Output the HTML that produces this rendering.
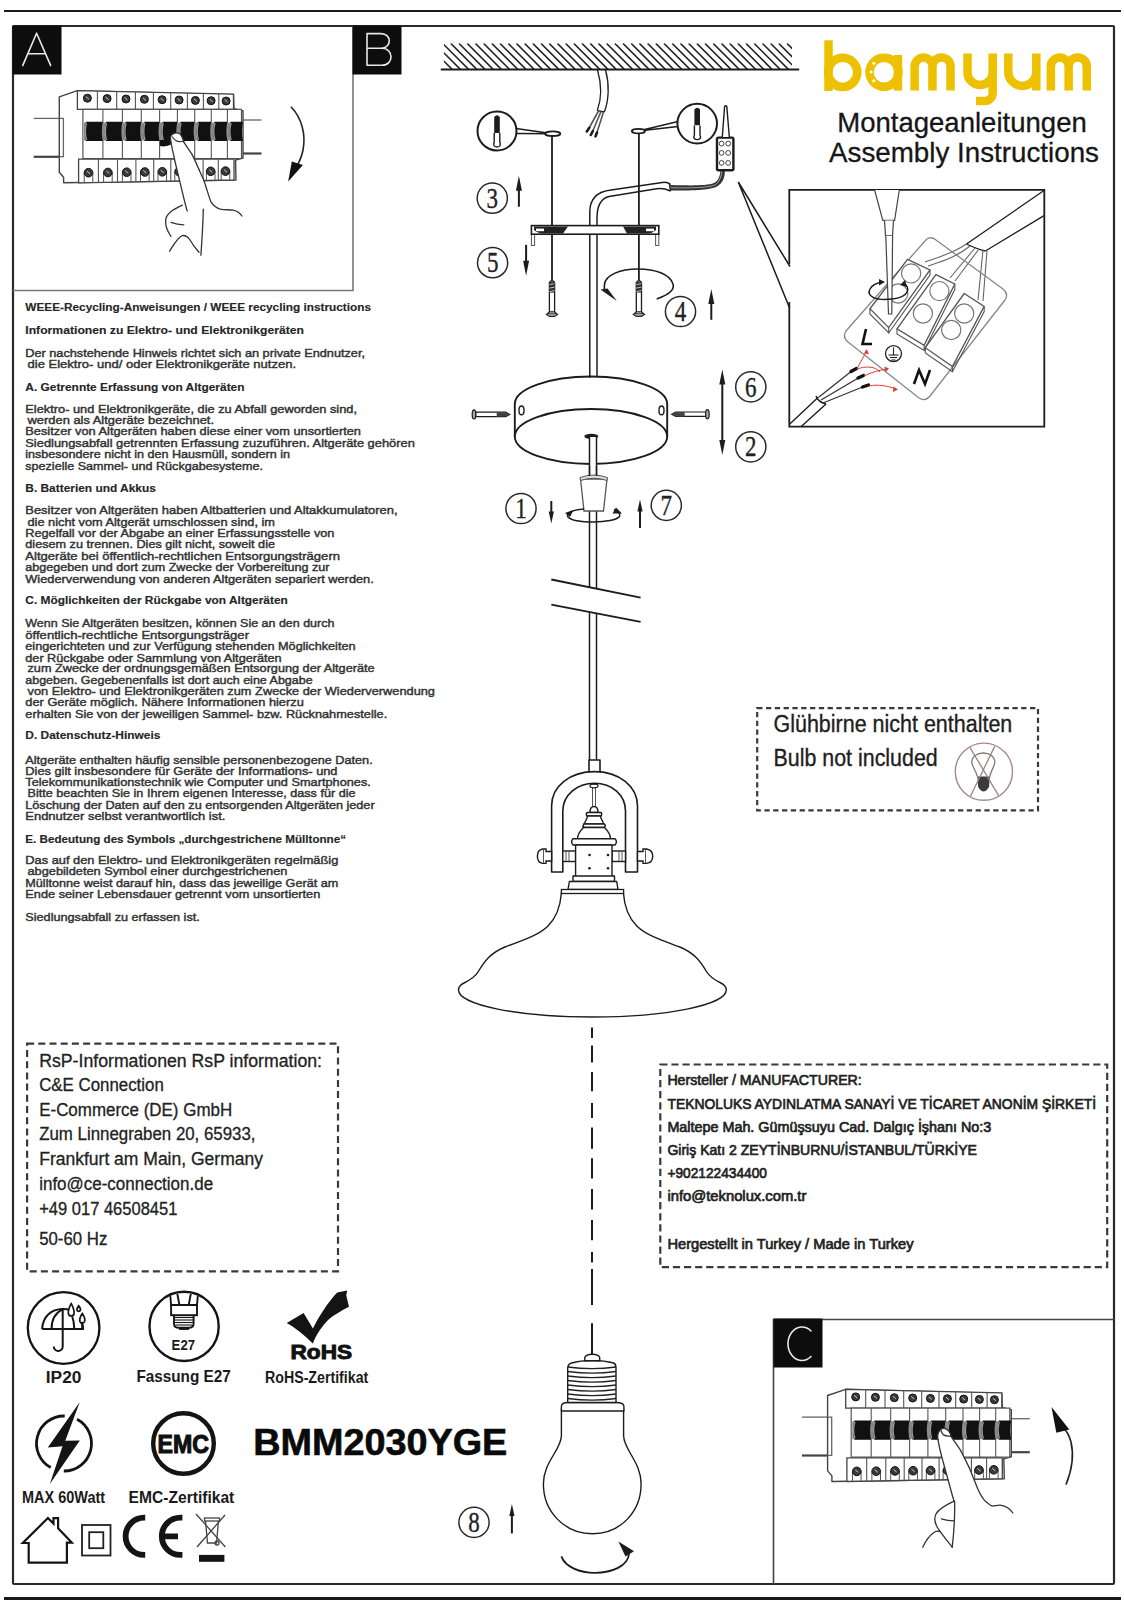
<!DOCTYPE html>
<html><head><meta charset="utf-8">
<title>bamyum Assembly Instructions</title>
<style>
html,body{margin:0;padding:0;background:#fff;}
body{width:1124px;height:1600px;overflow:hidden;}
svg{display:block;font-family:"Liberation Sans",sans-serif;}
</style></head><body>
<svg width="1124" height="1600" viewBox="0 0 1124 1600">
<line x1="4" y1="11" x2="1121" y2="11" stroke="#1a1a1a" stroke-width="2.2"/>
<line x1="4" y1="1598.5" x2="1121" y2="1598.5" stroke="#1a1a1a" stroke-width="3"/>
<rect x="13" y="26" width="1101" height="1558" fill="none" stroke="#2a2a2a" stroke-width="2.2" rx="1"/>
<polyline points="13,290.5 353,290.5 353,26" fill="none" stroke="#777" stroke-width="1.6"/>
<polyline points="773.5,1584 773.5,1319.5 1114,1319.5" fill="none" stroke="#444" stroke-width="1.6"/>
<rect x="12.5" y="25.5" width="49" height="49" fill="#0d0d0d"/>
<rect x="352.5" y="25.5" width="49" height="49" fill="#0d0d0d"/>
<rect x="773.5" y="1318.5" width="49" height="49" fill="#0d0d0d"/>
<g fill="none" stroke="#e8e8e8" stroke-width="1.6" stroke-linecap="round" stroke-linejoin="round">
<polyline points="22.8,65.4 36.6,33.2 50.6,65.4"/><line x1="28.6" y1="53.8" x2="44.8" y2="53.8"/>
<path d="M367,33.6 H381 C392,33.6 392,48.3 381,48.3 H367 M367,65.3 V33.6 M367,48.3 H382 C394,48.3 394,65.3 382,65.3 H367"/>
<path d="M811,1331 A14,16.7 0 1 0 811,1356.5"/>
</g>
<text x="25.3" y="311.0" font-size="11.4" font-weight="bold" fill="#262626" textLength="345.7" lengthAdjust="spacingAndGlyphs" text-anchor="start" stroke="#262626" stroke-width="0.15">WEEE-Recycling-Anweisungen / WEEE recycling instructions</text>
<text x="25.3" y="333.5" font-size="11.4" font-weight="bold" fill="#262626" textLength="278.7" lengthAdjust="spacingAndGlyphs" text-anchor="start" stroke="#262626" stroke-width="0.15">Informationen zu Elektro- und Elektronikgeräten</text>
<text x="25.3" y="357.0" font-size="11" fill="#333" textLength="339.7" lengthAdjust="spacingAndGlyphs" text-anchor="start" stroke="#333" stroke-width="0.42">Der nachstehende Hinweis richtet sich an private Endnutzer,</text>
<text x="27.5" y="368.0" font-size="11" fill="#333" textLength="268.5" lengthAdjust="spacingAndGlyphs" text-anchor="start" stroke="#333" stroke-width="0.42">die Elektro- und/ oder Elektronikgeräte nutzen.</text>
<text x="25.3" y="391.0" font-size="11.4" font-weight="bold" fill="#262626" textLength="219.2" lengthAdjust="spacingAndGlyphs" text-anchor="start" stroke="#262626" stroke-width="0.15">A. Getrennte Erfassung von Altgeräten</text>
<text x="25.3" y="413.0" font-size="11" fill="#333" textLength="331.7" lengthAdjust="spacingAndGlyphs" text-anchor="start" stroke="#333" stroke-width="0.42">Elektro- und Elektronikgeräte, die zu Abfall geworden sind,</text>
<text x="27.5" y="424.0" font-size="11" fill="#333" textLength="186.5" lengthAdjust="spacingAndGlyphs" text-anchor="start" stroke="#333" stroke-width="0.42">werden als Altgeräte bezeichnet.</text>
<text x="25.3" y="435.4" font-size="11" fill="#333" textLength="335.7" lengthAdjust="spacingAndGlyphs" text-anchor="start" stroke="#333" stroke-width="0.42">Besitzer von Altgeräten haben diese einer vom unsortierten</text>
<text x="25.3" y="446.8" font-size="11" fill="#333" textLength="389.5" lengthAdjust="spacingAndGlyphs" text-anchor="start" stroke="#333" stroke-width="0.42">Siedlungsabfall getrennten Erfassung zuzuführen. Altgeräte gehören</text>
<text x="25.3" y="458.3" font-size="11" fill="#333" textLength="264.7" lengthAdjust="spacingAndGlyphs" text-anchor="start" stroke="#333" stroke-width="0.42">insbesondere nicht in den Hausmüll, sondern in</text>
<text x="25.3" y="469.8" font-size="11" fill="#333" textLength="237.7" lengthAdjust="spacingAndGlyphs" text-anchor="start" stroke="#333" stroke-width="0.42">spezielle Sammel- und Rückgabesysteme.</text>
<text x="25.3" y="491.5" font-size="11.4" font-weight="bold" fill="#262626" textLength="130.5" lengthAdjust="spacingAndGlyphs" text-anchor="start" stroke="#262626" stroke-width="0.15">B. Batterien und Akkus</text>
<text x="25.3" y="514.4" font-size="11" fill="#333" textLength="372.2" lengthAdjust="spacingAndGlyphs" text-anchor="start" stroke="#333" stroke-width="0.42">Besitzer von Altgeräten haben Altbatterien und Altakkumulatoren,</text>
<text x="27.5" y="525.9" font-size="11" fill="#333" textLength="247.5" lengthAdjust="spacingAndGlyphs" text-anchor="start" stroke="#333" stroke-width="0.42">die nicht vom Altgerät umschlossen sind, im</text>
<text x="25.3" y="537.0" font-size="11" fill="#333" textLength="309.1" lengthAdjust="spacingAndGlyphs" text-anchor="start" stroke="#333" stroke-width="0.42">Regelfall vor der Abgabe an einer Erfassungsstelle von</text>
<text x="25.3" y="548.4" font-size="11" fill="#333" textLength="249.7" lengthAdjust="spacingAndGlyphs" text-anchor="start" stroke="#333" stroke-width="0.42">diesem zu trennen. Dies gilt nicht, soweit die</text>
<text x="25.3" y="560.0" font-size="11" fill="#333" textLength="314.7" lengthAdjust="spacingAndGlyphs" text-anchor="start" stroke="#333" stroke-width="0.42">Altgeräte bei öffentlich-rechtlichen Entsorgungsträgern</text>
<text x="25.3" y="571.4" font-size="11" fill="#333" textLength="304.2" lengthAdjust="spacingAndGlyphs" text-anchor="start" stroke="#333" stroke-width="0.42">abgegeben und dort zum Zwecke der Vorbereitung zur</text>
<text x="25.3" y="582.9" font-size="11" fill="#333" textLength="348.5" lengthAdjust="spacingAndGlyphs" text-anchor="start" stroke="#333" stroke-width="0.42">Wiederverwendung von anderen Altgeräten separiert werden.</text>
<text x="25.3" y="604.3" font-size="11.4" font-weight="bold" fill="#262626" textLength="262.5" lengthAdjust="spacingAndGlyphs" text-anchor="start" stroke="#262626" stroke-width="0.15">C. Möglichkeiten der Rückgabe von Altgeräten</text>
<text x="25.3" y="627.2" font-size="11" fill="#333" textLength="309.1" lengthAdjust="spacingAndGlyphs" text-anchor="start" stroke="#333" stroke-width="0.42">Wenn Sie Altgeräten besitzen, können Sie an den durch</text>
<text x="25.3" y="638.7" font-size="11" fill="#333" textLength="223.7" lengthAdjust="spacingAndGlyphs" text-anchor="start" stroke="#333" stroke-width="0.42">öffentlich-rechtliche Entsorgungsträger</text>
<text x="25.3" y="650.2" font-size="11" fill="#333" textLength="330.2" lengthAdjust="spacingAndGlyphs" text-anchor="start" stroke="#333" stroke-width="0.42">eingerichteten und zur Verfügung stehenden Möglichkeiten</text>
<text x="25.3" y="661.6" font-size="11" fill="#333" textLength="256.3" lengthAdjust="spacingAndGlyphs" text-anchor="start" stroke="#333" stroke-width="0.42">der Rückgabe oder Sammlung von Altgeräten</text>
<text x="27.5" y="672.4" font-size="11" fill="#333" textLength="347.1" lengthAdjust="spacingAndGlyphs" text-anchor="start" stroke="#333" stroke-width="0.42">zum Zwecke der ordnungsgemäßen Entsorgung der Altgeräte</text>
<text x="25.3" y="683.5" font-size="11" fill="#333" textLength="287.3" lengthAdjust="spacingAndGlyphs" text-anchor="start" stroke="#333" stroke-width="0.42">abgeben. Gegebenenfalls ist dort auch eine Abgabe</text>
<text x="27.5" y="695.0" font-size="11" fill="#333" textLength="407.5" lengthAdjust="spacingAndGlyphs" text-anchor="start" stroke="#333" stroke-width="0.42">von Elektro- und Elektronikgeräten zum Zwecke der Wiederverwendung</text>
<text x="25.3" y="706.4" font-size="11" fill="#333" textLength="278.5" lengthAdjust="spacingAndGlyphs" text-anchor="start" stroke="#333" stroke-width="0.42">der Geräte möglich. Nähere Informationen hierzu</text>
<text x="25.3" y="717.9" font-size="11" fill="#333" textLength="361.9" lengthAdjust="spacingAndGlyphs" text-anchor="start" stroke="#333" stroke-width="0.42">erhalten Sie von der jeweiligen Sammel- bzw. Rücknahmestelle.</text>
<text x="25.3" y="739.3" font-size="11.4" font-weight="bold" fill="#262626" textLength="135.1" lengthAdjust="spacingAndGlyphs" text-anchor="start" stroke="#262626" stroke-width="0.15">D. Datenschutz-Hinweis</text>
<text x="25.3" y="764.1" font-size="11" fill="#333" textLength="347.4" lengthAdjust="spacingAndGlyphs" text-anchor="start" stroke="#333" stroke-width="0.42">Altgeräte enthalten häufig sensible personenbezogene Daten.</text>
<text x="25.3" y="774.8" font-size="11" fill="#333" textLength="312.2" lengthAdjust="spacingAndGlyphs" text-anchor="start" stroke="#333" stroke-width="0.42">Dies gilt insbesondere für Geräte der Informations- und</text>
<text x="25.3" y="786.3" font-size="11" fill="#333" textLength="345.5" lengthAdjust="spacingAndGlyphs" text-anchor="start" stroke="#333" stroke-width="0.42">Telekommunikationstechnik wie Computer und Smartphones.</text>
<text x="27.5" y="797.4" font-size="11" fill="#333" textLength="328.0" lengthAdjust="spacingAndGlyphs" text-anchor="start" stroke="#333" stroke-width="0.42">Bitte beachten Sie in Ihrem eigenen Interesse, dass für die</text>
<text x="25.3" y="808.9" font-size="11" fill="#333" textLength="349.3" lengthAdjust="spacingAndGlyphs" text-anchor="start" stroke="#333" stroke-width="0.42">Löschung der Daten auf den zu entsorgenden Altgeräten jeder</text>
<text x="25.3" y="819.6" font-size="11" fill="#333" textLength="200.1" lengthAdjust="spacingAndGlyphs" text-anchor="start" stroke="#333" stroke-width="0.42">Endnutzer selbst verantwortlich ist.</text>
<text x="25.3" y="842.6" font-size="11.4" font-weight="bold" fill="#262626" textLength="320.7" lengthAdjust="spacingAndGlyphs" text-anchor="start" stroke="#262626" stroke-width="0.15">E. Bedeutung des Symbols „durchgestrichene Mülltonne“</text>
<text x="25.3" y="864.4" font-size="11" fill="#333" textLength="313.0" lengthAdjust="spacingAndGlyphs" text-anchor="start" stroke="#333" stroke-width="0.42">Das auf den Elektro- und Elektronikgeräten regelmäßig</text>
<text x="27.5" y="875.0" font-size="11" fill="#333" textLength="259.9" lengthAdjust="spacingAndGlyphs" text-anchor="start" stroke="#333" stroke-width="0.42">abgebildeten Symbol einer durchgestrichenen</text>
<text x="25.3" y="886.5" font-size="11" fill="#333" textLength="313.0" lengthAdjust="spacingAndGlyphs" text-anchor="start" stroke="#333" stroke-width="0.42">Mülltonne weist darauf hin, dass das jeweilige Gerät am</text>
<text x="25.3" y="898.0" font-size="11" fill="#333" textLength="295.0" lengthAdjust="spacingAndGlyphs" text-anchor="start" stroke="#333" stroke-width="0.42">Ende seiner Lebensdauer getrennt vom unsortierten</text>
<text x="25.3" y="921.0" font-size="11" fill="#333" textLength="174.5" lengthAdjust="spacingAndGlyphs" text-anchor="start" stroke="#333" stroke-width="0.42">Siedlungsabfall zu erfassen ist.</text>
<rect x="27.1" y="1043.6" width="310.9" height="227.80000000000018" fill="none" stroke="#3a3a3a" stroke-width="2.2" stroke-dasharray="7 4.2"/>
<text x="39.2" y="1066.9" font-size="17.5" fill="#222" textLength="282.8" lengthAdjust="spacingAndGlyphs" text-anchor="start" stroke="#222" stroke-width="0.3">RsP-Informationen RsP information:</text>
<text x="39.2" y="1091.4" font-size="17.5" fill="#222" textLength="124.6" lengthAdjust="spacingAndGlyphs" text-anchor="start" stroke="#222" stroke-width="0.3">C&amp;E Connection</text>
<text x="39.2" y="1116.2" font-size="17.5" fill="#222" textLength="193.0" lengthAdjust="spacingAndGlyphs" text-anchor="start" stroke="#222" stroke-width="0.3">E-Commerce (DE) GmbH</text>
<text x="39.2" y="1140.4" font-size="17.5" fill="#222" textLength="216.3" lengthAdjust="spacingAndGlyphs" text-anchor="start" stroke="#222" stroke-width="0.3">Zum Linnegraben 20, 65933,</text>
<text x="39.2" y="1165.2" font-size="17.5" fill="#222" textLength="223.8" lengthAdjust="spacingAndGlyphs" text-anchor="start" stroke="#222" stroke-width="0.3">Frankfurt am Main, Germany</text>
<text x="39.2" y="1189.7" font-size="17.5" fill="#222" textLength="173.9" lengthAdjust="spacingAndGlyphs" text-anchor="start" stroke="#222" stroke-width="0.3">info@ce-connection.de</text>
<text x="39.2" y="1214.5" font-size="17.5" fill="#222" textLength="138.2" lengthAdjust="spacingAndGlyphs" text-anchor="start" stroke="#222" stroke-width="0.3">+49 017 46508451</text>
<text x="39.2" y="1244.8" font-size="17.5" fill="#222" textLength="68.1" lengthAdjust="spacingAndGlyphs" text-anchor="start" stroke="#222" stroke-width="0.3">50-60 Hz</text>
<rect x="660.3" y="1064.5" width="446.9000000000001" height="202.70000000000005" fill="none" stroke="#3a3a3a" stroke-width="2.2" stroke-dasharray="7.2 3.9"/>
<text x="667.4" y="1085.2" font-size="15.2" fill="#222" textLength="194.4" lengthAdjust="spacingAndGlyphs" text-anchor="start" stroke="#222" stroke-width="0.7">Hersteller / MANUFACTURER:</text>
<text x="667.4" y="1108.8" font-size="15.2" fill="#222" textLength="428.6" lengthAdjust="spacingAndGlyphs" text-anchor="start" stroke="#222" stroke-width="0.7">TEKNOLUKS AYDINLATMA SANAYİ VE TİCARET ANONİM ŞİRKETİ</text>
<text x="667.4" y="1131.5" font-size="15.2" fill="#222" textLength="323.9" lengthAdjust="spacingAndGlyphs" text-anchor="start" stroke="#222" stroke-width="0.7">Maltepe Mah. Gümüşsuyu Cad. Dalgıç İşhanı No:3</text>
<text x="667.4" y="1154.7" font-size="15.2" fill="#222" textLength="309.5" lengthAdjust="spacingAndGlyphs" text-anchor="start" stroke="#222" stroke-width="0.7">Giriş Katı 2 ZEYTİNBURNU/İSTANBUL/TÜRKİYE</text>
<text x="667.4" y="1178.3" font-size="15.2" fill="#222" textLength="99.6" lengthAdjust="spacingAndGlyphs" text-anchor="start" stroke="#222" stroke-width="0.7">+902122434400</text>
<text x="667.4" y="1201.0" font-size="15.2" fill="#222" textLength="139.0" lengthAdjust="spacingAndGlyphs" text-anchor="start" stroke="#222" stroke-width="0.7">info@teknolux.com.tr</text>
<text x="667.4" y="1248.6" font-size="15.2" fill="#222" textLength="246.1" lengthAdjust="spacingAndGlyphs" text-anchor="start" stroke="#222" stroke-width="0.7">Hergestellt in Turkey / Made in Turkey</text>
<rect x="757.2" y="708.2" width="280.79999999999995" height="102.09999999999991" fill="none" stroke="#3a3a3a" stroke-width="2.2" stroke-dasharray="5.3 3.5"/>
<text x="773.5" y="731.8" font-size="23.5" fill="#1e1e1e" textLength="238.8" lengthAdjust="spacingAndGlyphs" text-anchor="start" stroke="#1e1e1e" stroke-width="0.35">Glühbirne nicht enthalten</text>
<text x="773.5" y="766.0" font-size="23.5" fill="#1e1e1e" textLength="164.2" lengthAdjust="spacingAndGlyphs" text-anchor="start" stroke="#1e1e1e" stroke-width="0.35">Bulb not included</text>
<text x="837.2" y="132.2" font-size="28.5" fill="#161616" textLength="249.6" lengthAdjust="spacingAndGlyphs" text-anchor="start" stroke="#161616" stroke-width="0.3">Montageanleitungen</text>
<text x="829.0" y="161.5" font-size="28.5" fill="#161616" textLength="270.0" lengthAdjust="spacingAndGlyphs" text-anchor="start" stroke="#161616" stroke-width="0.3">Assembly Instructions</text>
<g fill="none" stroke="#eec100" stroke-width="8.5">
<line x1="828.5" y1="40.3" x2="828.5" y2="91"/>
<circle cx="842.7" cy="72.3" r="14.6"/>
<circle cx="884" cy="72.3" r="14.5"/>
<line x1="897.9" y1="55" x2="897.9" y2="90.6"/>
<path d="M914.65,90.4 V66.5 A8.9,8.9 0 0 1 932.4499999999999,66.5 V90.4 M932.4499999999999,66.5 A9.05,9.05 0 0 1 950.55,66.5 V90.4"/>
<path d="M967.5,53.6 V72.4 A12.6,12.6 0 0 0 992.7,72.4 M992.7,53.6 V93 A8,8 0 0 1 984.7,101 H976"/>
<path d="M1008.3,53.6 V71.9 A14,14 0 0 0 1036.3,71.9 M1036.3,53.6 V90.4"/>
<path d="M1050.85,90.4 V66.5 A8.9,8.9 0 0 1 1068.6499999999999,66.5 V90.4 M1068.6499999999999,66.5 A9.05,9.05 0 0 1 1086.7499999999998,66.5 V90.4"/>
</g>
<g fill="#fff"><circle cx="873.7" cy="63.2" r="1.5"/><circle cx="871.2" cy="71.9" r="1.5"/><circle cx="873.7" cy="80.8" r="1.5"/></g>
<circle cx="63.6" cy="1328" r="35.8" fill="none" stroke="#141414" stroke-width="2.3"/>
<g fill="none" stroke="#141414" stroke-width="2" stroke-linejoin="round">
<path d="M42.2,1329 C42.5,1317 51,1309 62.7,1308.9 C67,1308.9 69,1309.5 70.5,1310 M79.5,1320 C82,1323 83.2,1326 83.2,1329 H42.2"/>
<path d="M62.5,1309.2 C55.5,1313 51.5,1320 51.6,1329 M62.7,1309 V1346.5 A4.45,4.45 0 0 1 53.8,1346.5"/>
<path d="M72.2,1316.5 C73.5,1320 74.2,1324 74.3,1329 M82.3,1322.7 V1329"/>
</g>
<g fill="#fff" stroke="#141414" stroke-width="1.7"><path d="M71.2,1303.6 C68.7,1308 68.2,1312.5 68.5,1314 C69,1316.5 73.5,1316.5 73.9,1314 C74.2,1312.5 73.7,1308 71.2,1303.6 Z"/><path d="M78.7,1305.8 C77.2,1307.8 76.7,1309.5 77,1310.3 C77.5,1311.6 80,1311.6 80.4,1310.3 C80.7,1309.5 80.2,1307.8 78.7,1305.8 Z"/><path d="M82.3,1313.4 C79.8,1317 79.6,1320 80,1321.4 C80.6,1323.3 84,1323.3 84.6,1321.4 C85,1320 84.8,1317 82.3,1313.4 Z"/></g>
<text x="45.8" y="1383.2" font-size="17.4" font-weight="bold" fill="#1a1a1a" textLength="35.6" lengthAdjust="spacingAndGlyphs" text-anchor="start" >IP20</text>
<circle cx="184.1" cy="1326.4" r="34.6" fill="none" stroke="#141414" stroke-width="2.4"/>
<clipPath id="ce27"><circle cx="184.1" cy="1326.4" r="33.4"/></clipPath>
<g clip-path="url(#ce27)" fill="none" stroke="#141414" stroke-width="1.9">
<path d="M169.6,1288 L171.1,1305 H197 L198.5,1288"/>
<line x1="177" y1="1292" x2="179.4" y2="1305"/><line x1="191.2" y1="1292" x2="188.7" y2="1305"/>
<rect x="171.1" y="1305" width="25.9" height="10.2"/>
<path d="M174,1315.2 V1323.5 Q174,1327.5 178,1327.7 H189.6 Q193.6,1327.5 193.6,1323.5 V1315.2"/>
</g>
<g stroke="#141414" stroke-width="1.1"><line x1="175" y1="1317.5" x2="193" y2="1317.5"/><line x1="175" y1="1320" x2="193" y2="1320"/><line x1="175" y1="1322.5" x2="193" y2="1322.5"/><line x1="175.5" y1="1325" x2="192.5" y2="1325"/></g>
<rect x="179" y="1327.5" width="10" height="2.4" fill="#141414"/>
<text x="171.6" y="1350.0" font-size="14.4" font-weight="bold" fill="#1a1a1a" textLength="23.5" lengthAdjust="spacingAndGlyphs" text-anchor="start" >E27</text>
<text x="136.4" y="1382.3" font-size="17" font-weight="bold" fill="#1a1a1a" textLength="94.4" lengthAdjust="spacingAndGlyphs" text-anchor="start" >Fassung E27</text>
<path d="M286.7,1323 L303.6,1313 L312.9,1328.6 C318,1318 328,1302 337.2,1292.5 L347.1,1290.6 L346.3,1295.5 L349,1306.8 C341,1311 334,1315 329.7,1318.6 C322,1326 316,1335 312.9,1343.5 C305,1336 296,1328 286.7,1323 Z" fill="#141414"/>
<text x="290.5" y="1358.5" font-size="19.5" font-weight="bold" fill="#111" textLength="61.6" lengthAdjust="spacingAndGlyphs" text-anchor="start" stroke="#111" stroke-width="0.9">RoHS</text>
<text x="265.0" y="1383.3" font-size="16.8" font-weight="bold" fill="#1a1a1a" textLength="103.3" lengthAdjust="spacingAndGlyphs" text-anchor="start" >RoHS-Zertifikat</text>
<path d="M77.04,1419.29 A27.5,27.5 0 0 1 63.81,1471.0 M50.71,1467.57 A27.5,27.5 0 0 1 64.72,1416.01" fill="none" stroke="#141414" stroke-width="2.8"/>
<path d="M79.8,1402.1 L47.8,1447.5 L62.5,1446.3 L49.8,1484 L79.8,1440.4 L65.3,1440.8 Z" fill="#141414"/>
<text x="22.0" y="1502.6" font-size="17.2" font-weight="bold" fill="#1a1a1a" textLength="83.1" lengthAdjust="spacingAndGlyphs" text-anchor="start" >MAX 60Watt</text>
<circle cx="183.5" cy="1443.5" r="30.3" fill="none" stroke="#141414" stroke-width="4.4"/>
<text x="157.5" y="1452.8" font-size="26" font-weight="bold" fill="#111" textLength="51.4" lengthAdjust="spacingAndGlyphs" text-anchor="start" stroke="#111" stroke-width="1.1">EMC</text>
<text x="128.6" y="1502.6" font-size="17.2" font-weight="bold" fill="#1a1a1a" textLength="105.7" lengthAdjust="spacingAndGlyphs" text-anchor="start" >EMC-Zertifikat</text>
<text x="253.2" y="1455.3" font-size="36" font-weight="bold" fill="#0a0a0a" textLength="254.1" lengthAdjust="spacingAndGlyphs" text-anchor="start" stroke="#0a0a0a" stroke-width="0.6">BMM2030YGE</text>
<path d="M28.7,1562.7 V1543 H22.8 L47.9,1518 L53.5,1523.6 V1518.2 H58.1 V1528.2 L71.8,1542.6 H66.9 V1562.7 Z" fill="none" stroke="#141414" stroke-width="2.2"/>
<rect x="82" y="1525" width="28.5" height="30.5" fill="none" stroke="#222" stroke-width="1.8"/>
<rect x="89.2" y="1532.2" width="14.1" height="16" fill="none" stroke="#222" stroke-width="1.8"/>
<path d="M145.2,1517.7 H144.2 A18.6,18.6 0 0 0 144.2,1554.9 H145.2" fill="none" stroke="#141414" stroke-width="5.8"/>
<path d="M182.4,1517.7 H180.4 A18.6,18.6 0 0 0 180.4,1554.9 H182.4 M164,1536.3 H178" fill="none" stroke="#141414" stroke-width="5.8"/>
<g fill="none" stroke="#444" stroke-width="1.3">
<line x1="196" y1="1514" x2="225.4" y2="1547"/><line x1="225" y1="1515" x2="197" y2="1547"/>
<rect x="204.5" y="1518" width="15" height="3" /><path d="M205.5,1521 L207.5,1543 H216.5 L218.5,1521"/><circle cx="217" cy="1543" r="2"/>
</g>
<rect x="199" y="1554.9" width="25.4" height="6.9" fill="#141414"/>
<clipPath id="hatch"><rect x="443.9" y="43.2" width="348.1" height="26"/></clipPath>
<path clip-path="url(#hatch)" d="M418.0,43.4 L444.0,69.4 M426.2,43.4 L452.2,69.4 M434.4,43.4 L460.4,69.4 M442.6,43.4 L468.6,69.4 M450.8,43.4 L476.8,69.4 M459.0,43.4 L485.0,69.4 M467.2,43.4 L493.2,69.4 M475.4,43.4 L501.4,69.4 M483.6,43.4 L509.6,69.4 M491.8,43.4 L517.8,69.4 M500.0,43.4 L526.0,69.4 M508.2,43.4 L534.2,69.4 M516.4,43.4 L542.4,69.4 M524.6,43.4 L550.6,69.4 M532.8,43.4 L558.8,69.4 M541.0,43.4 L567.0,69.4 M549.2,43.4 L575.2,69.4 M557.4,43.4 L583.4,69.4 M565.6,43.4 L591.6,69.4 M573.8,43.4 L599.8,69.4 M582.0,43.4 L608.0,69.4 M590.2,43.4 L616.2,69.4 M598.4,43.4 L624.4,69.4 M606.6,43.4 L632.6,69.4 M614.8,43.4 L640.8,69.4 M623.0,43.4 L649.0,69.4 M631.2,43.4 L657.2,69.4 M639.4,43.4 L665.4,69.4 M647.6,43.4 L673.6,69.4 M655.8,43.4 L681.8,69.4 M664.0,43.4 L690.0,69.4 M672.2,43.4 L698.2,69.4 M680.4,43.4 L706.4,69.4 M688.6,43.4 L714.6,69.4 M696.8,43.4 L722.8,69.4 M705.0,43.4 L731.0,69.4 M713.2,43.4 L739.2,69.4 M721.4,43.4 L747.4,69.4 M729.6,43.4 L755.6,69.4 M737.8,43.4 L763.8,69.4 M746.0,43.4 L772.0,69.4 M754.2,43.4 L780.2,69.4 M762.4,43.4 L788.4,69.4 M770.6,43.4 L796.6,69.4 M778.8,43.4 L804.8,69.4 M787.0,43.4 L813.0,69.4" stroke="#222" stroke-width="1.5" fill="none"/>
<line x1="440.8" y1="69.4" x2="799.2" y2="69.4" stroke="#1c1c1c" stroke-width="2"/>
<circle cx="492.3" cy="198.2" r="15.1" fill="none" stroke="#2a2a2a" stroke-width="1.5"/>
<text x="486.6" y="207.8" font-family="Liberation Serif" font-size="29" fill="#222" stroke="#222" stroke-width="0.35" textLength="11.5" lengthAdjust="spacingAndGlyphs">3</text>
<line x1="518.9" y1="206.7" x2="518.9" y2="187.8" stroke="#1c1c1c" stroke-width="2"/>
<path d="M518.9,175.8 L515.9,190.8 L521.9,190.8 Z" fill="#1c1c1c"/>
<circle cx="492.6" cy="262.7" r="15.1" fill="none" stroke="#2a2a2a" stroke-width="1.5"/>
<text x="486.9" y="272.3" font-family="Liberation Serif" font-size="29" fill="#222" stroke="#222" stroke-width="0.35" textLength="11.5" lengthAdjust="spacingAndGlyphs">5</text>
<line x1="526.1" y1="244.8" x2="526.1" y2="263.7" stroke="#1c1c1c" stroke-width="2"/>
<path d="M526.1,275.7 L523.1,260.7 L529.1,260.7 Z" fill="#1c1c1c"/>
<circle cx="680.5" cy="311.5" r="15.1" fill="none" stroke="#2a2a2a" stroke-width="1.5"/>
<text x="674.8" y="321.1" font-family="Liberation Serif" font-size="29" fill="#222" stroke="#222" stroke-width="0.35" textLength="11.5" lengthAdjust="spacingAndGlyphs">4</text>
<line x1="711.3" y1="319.8" x2="711.3" y2="300.9" stroke="#1c1c1c" stroke-width="2"/>
<path d="M711.3,288.9 L708.3,303.9 L714.3,303.9 Z" fill="#1c1c1c"/>
<circle cx="750.8" cy="386.9" r="15.1" fill="none" stroke="#2a2a2a" stroke-width="1.5"/>
<text x="745.0" y="396.5" font-family="Liberation Serif" font-size="29" fill="#222" stroke="#222" stroke-width="0.35" textLength="11.5" lengthAdjust="spacingAndGlyphs">6</text>
<circle cx="750.8" cy="446.8" r="15.1" fill="none" stroke="#2a2a2a" stroke-width="1.5"/>
<text x="745.0" y="456.4" font-family="Liberation Serif" font-size="29" fill="#222" stroke="#222" stroke-width="0.35" textLength="11.5" lengthAdjust="spacingAndGlyphs">2</text>
<line x1="722.3" y1="412" x2="722.3" y2="381.6" stroke="#1c1c1c" stroke-width="2"/>
<path d="M722.3,369.6 L719.3,384.6 L725.3,384.6 Z" fill="#1c1c1c"/>
<line x1="722.3" y1="412" x2="722.3" y2="443.1" stroke="#1c1c1c" stroke-width="2"/>
<path d="M722.3,455.1 L719.3,440.1 L725.3,440.1 Z" fill="#1c1c1c"/>
<circle cx="521" cy="508.5" r="15.1" fill="none" stroke="#2a2a2a" stroke-width="1.5"/>
<text x="515.2" y="518.1" font-family="Liberation Serif" font-size="29" fill="#222" stroke="#222" stroke-width="0.35" textLength="11.5" lengthAdjust="spacingAndGlyphs">1</text>
<line x1="551.3" y1="501" x2="551.3" y2="514.0" stroke="#1c1c1c" stroke-width="2"/>
<path d="M551.3,523.6 L548.6999999999999,511.6 L553.9,511.6 Z" fill="#1c1c1c"/>
<circle cx="666.3" cy="505.4" r="15.1" fill="none" stroke="#2a2a2a" stroke-width="1.5"/>
<text x="660.5" y="515.0" font-family="Liberation Serif" font-size="29" fill="#222" stroke="#222" stroke-width="0.35" textLength="11.5" lengthAdjust="spacingAndGlyphs">7</text>
<line x1="640" y1="528" x2="640" y2="509.0" stroke="#1c1c1c" stroke-width="2"/>
<path d="M640,499.4 L637.4,511.4 L642.6,511.4 Z" fill="#1c1c1c"/>
<circle cx="474" cy="1522.4" r="15.1" fill="none" stroke="#2a2a2a" stroke-width="1.5"/>
<text x="468.2" y="1532.0" font-family="Liberation Serif" font-size="29" fill="#222" stroke="#222" stroke-width="0.35" textLength="11.5" lengthAdjust="spacingAndGlyphs">8</text>
<line x1="511.9" y1="1533.4" x2="511.9" y2="1513.6" stroke="#1c1c1c" stroke-width="2"/>
<path d="M511.9,1504 L509.29999999999995,1516.0 L514.5,1516.0 Z" fill="#1c1c1c"/>
<g fill="none" stroke="#1c1c1c" stroke-width="1.3">
<path d="M597.5,70 C601.5,84 602,98 597.3,110.6"/>
<path d="M605.5,70 C609.5,84 609,100 604.3,112"/>
<path d="M597.3,110.6 L604.3,112"/>
</g>
<g stroke="#555" stroke-width="1.6" fill="none"><path d="M598.5,111 L588,130"/><path d="M601,111.5 L591.5,134"/><path d="M603.5,112 L596,135.5"/></g>
<g stroke="#1c1c1c" stroke-width="2.6" stroke-linecap="round"><path d="M589.3,127.8 L586.8,131.4"/><path d="M592.8,131 L590.8,135"/><path d="M597,132.5 L595.5,136.4"/></g>
<circle cx="497" cy="131" r="19.5" fill="#fff" stroke="#1c1c1c" stroke-width="2"/>
<path d="M494.2,117 Q497,113.5 499.8,117 V133 H494.2 Z" fill="#1c1c1c"/>
<path d="M494.2,133 V142.5 Q493,144 494.2,146 Q497,148 499.8,146 Q501,144 499.8,142.5 V133" fill="#fff" stroke="#1c1c1c" stroke-width="1.4"/>
<path d="M516,128.4 L552.7,133.7 L516,133.6" fill="none" stroke="#1c1c1c" stroke-width="1.5"/>
<ellipse cx="552.7" cy="133.7" rx="7.6" ry="2.3" fill="#fff" stroke="#1c1c1c" stroke-width="1.8"/>
<circle cx="697.2" cy="123.6" r="19.8" fill="#fff" stroke="#1c1c1c" stroke-width="2"/>
<path d="M694.4000000000001,109.6 Q697.2,106.1 700.0,109.6 V125.6 H694.4000000000001 Z" fill="#1c1c1c"/>
<path d="M694.4000000000001,125.6 V135.1 Q693.2,136.6 694.4000000000001,138.6 Q697.2,140.6 700.0,138.6 Q701.2,136.6 700.0,135.1 V125.6" fill="#fff" stroke="#1c1c1c" stroke-width="1.4"/>
<path d="M678,121.4 L638.4,131.1 L678,126.6" fill="none" stroke="#1c1c1c" stroke-width="1.5"/>
<ellipse cx="638.4" cy="131.1" rx="6.6" ry="2.3" fill="#fff" stroke="#1c1c1c" stroke-width="1.8"/>
<line x1="552" y1="136" x2="552" y2="281" stroke="#1c1c1c" stroke-width="1.8"/>
<line x1="638.9" y1="133.4" x2="638.9" y2="281" stroke="#1c1c1c" stroke-width="1.8"/>
<path d="M549.4,282.6 Q552,278.6 554.6,282.6 V312 H549.4 Z" fill="#fff" stroke="#1c1c1c" stroke-width="1.3"/>
<rect x="549.4" y="281.6" width="5.2" height="11" fill="#333"/>
<g stroke="#ddd" stroke-width="0.8"><line x1="549.4" y1="284.6" x2="554.6" y2="283.6"/><line x1="549.4" y1="288.1" x2="554.6" y2="287.1"/><line x1="549.4" y1="291.6" x2="554.6" y2="290.6"/></g>
<path d="M549.4,312 L546.5,314.5 Q552,318 557.5,314.5 L554.6,312" fill="#fff" stroke="#1c1c1c" stroke-width="1.3"/>
<ellipse cx="552" cy="314.7" rx="5" ry="1.8" fill="#999" stroke="#1c1c1c" stroke-width="1"/>
<path d="M636.3,282.6 Q638.9,278.6 641.5,282.6 V312 H636.3 Z" fill="#fff" stroke="#1c1c1c" stroke-width="1.3"/>
<rect x="636.3" y="281.6" width="5.2" height="11" fill="#333"/>
<g stroke="#ddd" stroke-width="0.8"><line x1="636.3" y1="284.6" x2="641.5" y2="283.6"/><line x1="636.3" y1="288.1" x2="641.5" y2="287.1"/><line x1="636.3" y1="291.6" x2="641.5" y2="290.6"/></g>
<path d="M636.3,312 L633.4,314.5 Q638.9,318 644.4,314.5 L641.5,312" fill="#fff" stroke="#1c1c1c" stroke-width="1.3"/>
<ellipse cx="638.9" cy="314.7" rx="5" ry="1.8" fill="#999" stroke="#1c1c1c" stroke-width="1"/>
<g fill="none" stroke="#1c1c1c" stroke-width="1.5">
<path d="M589.8,376 V212 C589.8,198 598,191.5 611,190 L662.3,182.4 C666,182 669,183 670.5,184.5"/>
<path d="M597,376 V218 C597,206 601,198.5 609,196.5 L656.7,188.8 C662,188 667,189.5 670.5,191"/>
<line x1="669.5" y1="184" x2="670.5" y2="191.2"/>
</g>
<path d="M670.5,185 C690,185.5 706,186 714,183 C719,180.5 720,175 720.5,170.5 L724.8,170.5 C725,177 723,183 717,186.5 C710,190.5 690,190.5 670.5,190.5 Z" fill="#333"/>
<path d="M671,187.8 C690,188 708,188 715.5,184.8 C719.5,182 721.5,176 722,171" fill="none" stroke="#bbb" stroke-width="0.8"/>
<rect x="717" y="137.6" width="16.4" height="32.6" rx="1.5" fill="#fff" stroke="#1c1c1c" stroke-width="2.4"/>
<circle cx="721.6" cy="143.6" r="2.4" fill="none" stroke="#444" stroke-width="1"/>
<circle cx="728.2" cy="143.6" r="2.4" fill="none" stroke="#444" stroke-width="1"/>
<circle cx="721.6" cy="152.9" r="2.4" fill="none" stroke="#444" stroke-width="1"/>
<circle cx="728.2" cy="152.9" r="2.4" fill="none" stroke="#444" stroke-width="1"/>
<circle cx="721.6" cy="162.9" r="2.4" fill="none" stroke="#444" stroke-width="1"/>
<circle cx="728.2" cy="162.9" r="2.4" fill="none" stroke="#444" stroke-width="1"/>
<path d="M722.3,137 L724.6,106.5 Q725.7,105 726.8,106.5 L729.3,137" fill="#fff" stroke="#1c1c1c" stroke-width="1.4"/>
<path d="M790,266.5 L738.3,182 L789.5,307.8" fill="none" stroke="#1c1c1c" stroke-width="1.5"/>
<rect x="531.4" y="234" width="3.2" height="11.5" fill="#fff" stroke="#555" stroke-width="1"/>
<rect x="655.6" y="234" width="3.2" height="11.5" fill="#fff" stroke="#555" stroke-width="1"/>
<rect x="531.4" y="225.6" width="127.4" height="8.6" fill="#fff" stroke="#1c1c1c" stroke-width="1.6"/>
<path d="M534,226.5 H568 L563,233.5 H541 Q537,233 534,230 Z" fill="#222"/>
<path d="M623,226.5 H656 V230 Q652,233.5 648,233.5 H627 Z" fill="#222"/>
<rect x="536" y="228.6" width="8" height="2.6" fill="#fff"/><rect x="646" y="228.6" width="8" height="2.6" fill="#fff"/>
<path d="M656.7,298.9 C668,295 675,290 673,284 C670,274 655,269 638,269 C620,269 606,275 604.5,284 L604.3,289" fill="none" stroke="#1c1c1c" stroke-width="1.6"/>
<path d="M600.5,289.6 L607.5,288.6 L616.8,301 Z" fill="#1c1c1c"/>
<g fill="#fff" stroke="#1c1c1c" stroke-width="1.9">
<path d="M514.8,436.5 V404 A76.2,27.5 0 0 1 667.2,404 V436.5 A76.2,27.5 0 0 1 514.8,436.5 Z"/>
<path d="M514.8,436.5 A76.2,27.5 0 0 1 667.2,436.5" fill="none"/>
</g>
<ellipse cx="521.5" cy="410.4" rx="2.5" ry="4.4" fill="none" stroke="#1c1c1c" stroke-width="1.4"/>
<ellipse cx="661.5" cy="410.4" rx="2.5" ry="4.4" fill="none" stroke="#1c1c1c" stroke-width="1.4"/>
<path d="M475.7,412.2 H505.7 L509.7,414.4 L505.7,416.59999999999997 H475.7 Z" fill="#fff" stroke="#1c1c1c" stroke-width="1.2"/>
<path d="M496.7,412.2 H505.7 L509.7,414.4 L505.7,416.59999999999997 H496.7 Z" fill="#444"/>
<ellipse cx="474.0" cy="414.4" rx="1.8" ry="4.6" fill="#aaa" stroke="#1c1c1c" stroke-width="1.2"/>
<path d="M705.7,412.0 H675.7 L671.7,414.2 L675.7,416.4 H705.7 Z" fill="#fff" stroke="#1c1c1c" stroke-width="1.2"/>
<path d="M684.7,412.0 H675.7 L671.7,414.2 L675.7,416.4 H684.7 Z" fill="#444"/>
<ellipse cx="707.4000000000001" cy="414.2" rx="1.8" ry="4.6" fill="#aaa" stroke="#1c1c1c" stroke-width="1.2"/>
<line x1="589.8" y1="376" x2="589.8" y2="378" stroke="#1c1c1c" stroke-width="1.5"/>
<ellipse cx="591.3" cy="436.3" rx="7" ry="2.6" fill="#1c1c1c"/>
<rect x="589" y="437" width="7.5" height="40" fill="#fff"/>
<g stroke="#1c1c1c" stroke-width="1.5"><line x1="589.5" y1="437" x2="589.5" y2="587.5"/><line x1="596.5" y1="437" x2="596.5" y2="589"/><line x1="589.5" y1="612" x2="589.5" y2="760"/><line x1="596.5" y1="613.5" x2="596.5" y2="760"/></g>
<path d="M580.5,479 L584,511 H603.5 L607,479 Z" fill="#fff" stroke="#555" stroke-width="1.3"/>
<path d="M580,477.6 Q593.7,472.5 607.5,477.6 L607,480.5 Q593.7,476 580.5,480.5 Z" fill="#ddd" stroke="#555" stroke-width="1"/>
<g stroke="#1c1c1c" stroke-width="1.4"><line x1="589.5" y1="466" x2="589.5" y2="476"/><line x1="596.5" y1="466" x2="596.5" y2="476"/></g>
<path d="M584,509 C570,510 566,514 568,517 C572,521.5 585,522 594,522 C605,522 617,520 619.5,516.5 C621,514 618,511 614,509.5" fill="none" stroke="#1c1c1c" stroke-width="1.6"/>
<path d="M565,513 L573.5,510 L570,517 Z" fill="#1c1c1c"/>
<path d="M616,507.5 L622,513.5 L612.5,513.5 Z" fill="#1c1c1c"/>
<g stroke="#1c1c1c" stroke-width="1.8"><line x1="551.3" y1="579.5" x2="640.6" y2="597.7"/><line x1="551.3" y1="604.6" x2="640.6" y2="621.9"/></g>
<g fill="#fff" stroke="#1c1c1c" stroke-width="1.6" stroke-linejoin="round">
<rect x="589" y="760" width="11" height="12"/>
<path d="M551.6,872 V806 C551.6,786 570,771.6 594.5,771.6 C619,771.6 637.5,786 637.5,806 V872 H625.5 V811 C625.5,795 612,783.3 594.5,783.3 C577,783.3 562.8,795 562.8,811 V872 Z"/>
</g>
<g fill="#fff" stroke="#1c1c1c" stroke-width="1.4">
<path d="M551.6,851.5 H546 V849 H542.5 Q537.4,850 537.4,856.2 Q537.4,862.4 542.5,863.4 H546 V861 H551.6 Z"/>
<path d="M637.5,851.5 H643 V849 H646.6 Q652.7,850 652.7,856.2 Q652.7,862.4 646.6,863.4 H643 V861 H637.5 Z"/>
<rect x="562.8" y="851" width="12.8" height="10.5"/><rect x="612" y="851" width="13.5" height="10.5"/>
</g>
<g stroke="#444" stroke-width="0.9"><line x1="566" y1="851" x2="566" y2="861.5"/><line x1="569" y1="851" x2="569" y2="861.5"/><line x1="619" y1="851" x2="619" y2="861.5"/><line x1="622" y1="851" x2="622" y2="861.5"/><line x1="543.5" y1="849" x2="543.5" y2="863.4"/><line x1="645.5" y1="849" x2="645.5" y2="863.4"/></g>
<g stroke="#555" stroke-width="1"><line x1="592.5" y1="786" x2="592.5" y2="806"/><line x1="595.5" y1="786" x2="595.5" y2="806"/></g>
<ellipse cx="594" cy="786" rx="4" ry="1.8" fill="#fff" stroke="#1c1c1c" stroke-width="1.2"/>
<g fill="#fff" stroke="#1c1c1c" stroke-width="1.4" stroke-linejoin="round">
<path d="M590,812.5 Q590,806.5 594,806.5 Q598,806.5 598,812.5 Z"/>
<path d="M587,812.5 H601 Q602.5,814 601,816 H587 Q585.5,814 587,812.5 Z"/>
<path d="M587.5,816 C587.5,819.5 584.5,821 584.5,824 H603.5 C603.5,821 600.5,819.5 600.5,816 Z"/>
<path d="M583.5,824 H604.5 Q606,825.5 604.5,827.5 H583.5 Q582,825.5 583.5,827.5 Z"/>
<path d="M583.5,827.5 C580,831 577.5,834 577.5,838.8 H610.5 C610.5,834 608,831 604.5,827.5 Z"/>
<path d="M573,838.8 H615 Q617.8,841.9 615,845 H573 Q570.2,841.9 573,838.8 Z"/>
<path d="M575.6,845 H612 V881.5 H575.6 Z"/>
<path d="M573,876 H614.5 V881.5 H573 Z"/>
<path d="M569.4,881.5 H616.7 L618,889.5 H568 Z"/>
</g>
<g fill="#1c1c1c"><circle cx="589.5" cy="855" r="1.3"/><circle cx="608" cy="855" r="1.3"/><circle cx="589.5" cy="868.2" r="1.3"/><circle cx="608" cy="868.2" r="1.3"/></g>
<path d="M561.4,893 C560.5,905 557,917 548,926 C538,936 520,941 505,947 C490,953 484,962 478,972 C475,977 470,980 464,983 C460,985 458.5,987 458.5,990 A133.9,27 0 0 0 726.3,990 C726.3,987 724.8,985 720.8,983 C714.8,980 709.8,977 706.8,972 C700.8,962 694.8,953 679.8,947 C664.8,941 646.8,936 636.8,926 C627.8,917 624.3,905 623.4,893 Z" fill="#fff" stroke="#1c1c1c" stroke-width="1.4"/>
<rect x="561.4" y="889.5" width="62.2" height="4" fill="#fff" stroke="#1c1c1c" stroke-width="1.3"/>
<path d="M592,1027.4 V1038.1 M592,1045.5 V1062.6 M592,1072.1 V1091.3 M592,1103 V1117.9 M592,1127.4 V1148.7 M592,1158.3 V1178.5 M592,1189.1 V1209.4 M592,1220 V1240.2 M592,1251.9 V1262.6 M592,1269 V1305.1 M592,1323.2 V1355" stroke="#1c1c1c" stroke-width="2"/>
<g fill="#fff" stroke="#1c1c1c" stroke-width="1.4" stroke-linejoin="round">
<path d="M561.4,1409 V1436 C561,1450 543.4,1462 543.4,1484 C543.4,1512 565,1533.75 592.5,1533.75 C620,1533.75 641.1,1512 641.1,1484 C641.1,1462 624,1450 623.6,1436 V1409 Z"/>
<path d="M561.4,1411 V1406 Q562,1402.5 567.7,1402.5 H616 Q623.3,1402.5 623.9,1406 V1411 Z"/>
<path d="M567.7,1402.5 V1368 Q568,1364 571.6,1363 Q580,1360.5 592.3,1360.5 Q604.5,1360.5 613.7,1363 Q616,1364 616,1368 V1402.5 Z"/>
<path d="M584.8,1360.8 V1357.5 Q586,1354.3 592.3,1354.3 Q598.5,1354.3 599.7,1357.5 V1360.8 Z"/>
</g>
<path d="M567.7,1367.0 Q592.3,1370.2 616,1367.0 M567.7,1371.5 Q592.3,1374.7 616,1371.5 M567.7,1376.0 Q592.3,1379.2 616,1376.0 M567.7,1380.5 Q592.3,1383.7 616,1380.5 M567.7,1385.0 Q592.3,1388.2 616,1385.0 M567.7,1389.5 Q592.3,1392.7 616,1389.5 M567.7,1394.0 Q592.3,1397.2 616,1394.0 M567.7,1398.5 Q592.3,1401.7 616,1398.5" fill="none" stroke="#222" stroke-width="1.3"/>
<path d="M561.4,1556.4 C565,1567 580,1572.8 595,1572.8 C612,1572.8 628,1566 629,1554" fill="none" stroke="#1c1c1c" stroke-width="1.8"/>
<path d="M618.4,1541.6 L634,1551.2 L625.5,1556.5 Z" fill="#1c1c1c"/>
<path d="M789.3,264 V189.8 H1044.3 V426.7 H789.3 V302" fill="none" stroke="#1c1c1c" stroke-width="1.8"/>
<g fill="none" stroke="#1c1c1c" stroke-width="1.3">
<path d="M1044,190.5 L966.5,244"/><path d="M1044,215.6 L985.4,251"/><path d="M966.5,244 C975,248 980,250 985.4,251"/>
</g>
<g fill="none" stroke="#666" stroke-width="1.1">
<path d="M966.5,244 C950,255 935,258 925,262"/><path d="M970,246 C955,258 940,262 928,266"/>
<path d="M975,248 L950,278"/><path d="M979,249 L955,281"/>
<path d="M983,250 L978,300"/><path d="M987,251 L983,301"/>
</g>
<path d="M926.5,239.2 Q931,236 936,240 L1003,289 Q1009,294 1005,300 L930,396 Q925,402 919,398 L848,342 Q842,337 846,331 Z" fill="none" stroke="#888" stroke-width="1.3"/>
<polygon points="907.6,259.3 930,269.9 888.7,327.6 869.9,308.8" fill="#fff" stroke="#555" stroke-width="1.3"/>
<circle cx="911.1" cy="273.4" r="9.6" fill="#fff" stroke="#777" stroke-width="1.2"/>
<circle cx="898.2" cy="293.5" r="9.6" fill="#fff" stroke="#777" stroke-width="1.2"/>
<polygon points="935.9,274.6 954.8,284 924.1,345.3 897,328.8" fill="#fff" stroke="#555" stroke-width="1.3"/>
<circle cx="939.4" cy="291.1" r="9.6" fill="#fff" stroke="#777" stroke-width="1.2"/>
<circle cx="922.9" cy="313.5" r="9.6" fill="#fff" stroke="#777" stroke-width="1.2"/>
<polygon points="964.2,293.5 984.2,306.4 952.4,366.5 925.3,347.7" fill="#fff" stroke="#555" stroke-width="1.3"/>
<circle cx="964.2" cy="313.5" r="9.6" fill="#fff" stroke="#777" stroke-width="1.2"/>
<circle cx="951.2" cy="330" r="9.6" fill="#fff" stroke="#777" stroke-width="1.2"/>
<g stroke="#555" stroke-width="1.1" fill="none"><path d="M869.9,308.8 L869.9,314 L888.7,333 L888.7,327.6"/><path d="M888.7,333 L930,275 L930,269.9"/><path d="M897,328.8 V334 L924.1,350.5 V345.3 M924.1,350.5 L954.8,289.5 V284"/><path d="M925.3,347.7 V353 L952.4,371.8 V366.5 M952.4,371.8 L984.2,311.5 V306.4"/></g>
<g fill="#fff" stroke="#444" stroke-width="1.2">
<path d="M874.6,190 L882.8,220.4 H894.6 L899.3,190"/>
<path d="M884.5,220.4 L885.5,235.7 H892.5 L893.5,220.4"/>
<path d="M885.8,235.7 L888.5,314 H891.8 L892.6,235.7"/>
</g>
<path d="M903,283 C911,287 910,297 892,299 C875,301 866,296 870,289 C872,285 877,283 882,282" fill="none" stroke="#1c1c1c" stroke-width="1.5"/>
<path d="M879,279 L885,282 L879,285.5 Z" fill="#1c1c1c"/><path d="M905,280 L907,287 L900,285 Z" fill="#1c1c1c"/>
<path d="M866,329 L862.5,344 H872" fill="none" stroke="#111" stroke-width="2.6"/>
<path d="M914,384 L919,370 L925,384 L930,370" fill="none" stroke="#111" stroke-width="2.6" stroke-linejoin="miter"/>
<circle cx="893.5" cy="353.6" r="8" fill="#fff" stroke="#222" stroke-width="1.3"/>
<g stroke="#222" stroke-width="1.1"><line x1="893.5" y1="347.5" x2="893.5" y2="355"/><line x1="888.5" y1="355" x2="898.5" y2="355"/><line x1="890" y1="357.5" x2="897" y2="357.5"/><line x1="891.5" y1="360" x2="895.5" y2="360"/></g>
<g fill="none" stroke="#1c1c1c" stroke-width="1.4">
<path d="M789.8,424 L818.5,397"/><path d="M801,426.7 L826,404"/><path d="M816,396 Q818,402 826,404"/>
</g>
<g stroke="#333" stroke-width="1.3" fill="none"><path d="M819,397 L853,370"/><path d="M821,400 L860,377"/><path d="M823,403 L865,386"/></g>
<g stroke="#111" stroke-width="3.4" stroke-linecap="round"><path d="M851,371.5 L856.5,368.5"/><path d="M858,378 L863.5,375.5"/><path d="M862.5,387 L868.5,385"/></g>
<g stroke="#e03c31" stroke-width="1" fill="none"><path d="M857,369 C860,362 864,357 866.5,351"/><path d="M864,376 C872,372 880,370 887,369"/><path d="M869,386 C878,384 888,386 896,389"/><path d="M857,369 C866,366 875,366 880,372"/></g>
<g fill="#e03c31"><path d="M866.5,349 L869,354 L864,353.5 Z"/><path d="M889,368.5 L885.5,372 L884.5,366.5 Z"/><path d="M898,389.5 L893,392 L893.5,386.5 Z"/></g>
<g transform="translate(0,0)"><path d="M33.7,118.4 H59.3" fill="none" stroke="#666" stroke-width="1.3"/><line x1="33.7" y1="156.8" x2="59.3" y2="156.8" stroke="#444" stroke-width="2.2"/><path d="M241,120 H261.5" fill="none" stroke="#666" stroke-width="1.3"/><line x1="241" y1="153.5" x2="261.5" y2="153.5" stroke="#444" stroke-width="2.2"/><path d="M77.3,90.6 L59.3,96.8 V172.2 L63.6,177.2 V182.8 L236,180 L235.5,160 L243,158 V111 L234,108.8 L233.5,94.7 Z" fill="#fff" stroke="#444" stroke-width="1.4" stroke-linejoin="round"/><path d="M59.3,118.4 H63.4 V156.6 H59.3" fill="none" stroke="#666" stroke-width="1.3"/><path d="M77.4,90.6 L233.5,94.2 V109.5 L77.4,109.3 Z" fill="#fff" stroke="#444" stroke-width="1.3"/><line x1="97.4" y1="91.3" x2="97.4" y2="109.4" stroke="#555" stroke-width="1.1"/><line x1="116.7" y1="91.7" x2="116.7" y2="109.4" stroke="#555" stroke-width="1.1"/><line x1="135.4" y1="92.1" x2="135.4" y2="109.4" stroke="#555" stroke-width="1.1"/><line x1="153.4" y1="92.5" x2="153.4" y2="109.4" stroke="#555" stroke-width="1.1"/><line x1="170.7" y1="92.9" x2="170.7" y2="109.4" stroke="#555" stroke-width="1.1"/><line x1="187.4" y1="93.3" x2="187.4" y2="109.4" stroke="#555" stroke-width="1.1"/><line x1="203.4" y1="93.7" x2="203.4" y2="109.4" stroke="#555" stroke-width="1.1"/><line x1="218.8" y1="94.1" x2="218.8" y2="109.4" stroke="#555" stroke-width="1.1"/><circle cx="87.4" cy="98.2" r="4" fill="#3a3a3a" stroke="#111" stroke-width="1"/><path d="M85.9,96.7 l3,2.5" stroke="#ddd" stroke-width="0.9"/><circle cx="107.1" cy="98.6" r="4" fill="#3a3a3a" stroke="#111" stroke-width="1"/><path d="M105.6,97.1 l3,2.5" stroke="#ddd" stroke-width="0.9"/><circle cx="126.0" cy="99.0" r="4" fill="#3a3a3a" stroke="#111" stroke-width="1"/><path d="M124.5,97.5 l3,2.5" stroke="#ddd" stroke-width="0.9"/><circle cx="144.4" cy="99.3" r="4" fill="#3a3a3a" stroke="#111" stroke-width="1"/><path d="M142.9,97.8 l3,2.5" stroke="#ddd" stroke-width="0.9"/><circle cx="162.1" cy="99.7" r="4" fill="#3a3a3a" stroke="#111" stroke-width="1"/><path d="M160.6,98.2 l3,2.5" stroke="#ddd" stroke-width="0.9"/><circle cx="179.1" cy="100.0" r="4" fill="#3a3a3a" stroke="#111" stroke-width="1"/><path d="M177.6,98.5 l3,2.5" stroke="#ddd" stroke-width="0.9"/><circle cx="195.4" cy="100.4" r="4" fill="#3a3a3a" stroke="#111" stroke-width="1"/><path d="M193.9,98.9 l3,2.5" stroke="#ddd" stroke-width="0.9"/><circle cx="211.1" cy="100.7" r="4" fill="#3a3a3a" stroke="#111" stroke-width="1"/><path d="M209.6,99.2 l3,2.5" stroke="#ddd" stroke-width="0.9"/><circle cx="226.1" cy="101.0" r="4" fill="#3a3a3a" stroke="#111" stroke-width="1"/><path d="M224.6,99.5 l3,2.5" stroke="#ddd" stroke-width="0.9"/><path d="M82.9,109.4 H241.5 V158.5 H82.9 Z" fill="#fff" stroke="#555" stroke-width="1.2"/><line x1="102.9" y1="109.4" x2="102.9" y2="158.5" stroke="#555" stroke-width="1.1"/><line x1="122.4" y1="109.4" x2="122.4" y2="158.5" stroke="#555" stroke-width="1.1"/><line x1="141.3" y1="109.4" x2="141.3" y2="158.5" stroke="#555" stroke-width="1.1"/><line x1="159.6" y1="109.4" x2="159.6" y2="158.5" stroke="#555" stroke-width="1.1"/><line x1="177.4" y1="109.4" x2="177.4" y2="158.5" stroke="#555" stroke-width="1.1"/><line x1="194.7" y1="109.4" x2="194.7" y2="158.5" stroke="#555" stroke-width="1.1"/><line x1="211.3" y1="109.4" x2="211.3" y2="158.5" stroke="#555" stroke-width="1.1"/><line x1="227.4" y1="109.4" x2="227.4" y2="158.5" stroke="#555" stroke-width="1.1"/><rect x="84" y="122.5" width="157" height="18" fill="#8a8a8a"/><path d="M86.1,121.7 H102.8 Q100.8,131 102.8,141 H86.1 Q83.6,131 86.1,121.7 Z" fill="#111"/><path d="M86.6,123 Q84.1,131 86.6,140" fill="none" stroke="#999" stroke-width="1.3"/><path d="M106.1,121.7 H122.3 Q120.3,131 122.3,141 H106.1 Q103.6,131 106.1,121.7 Z" fill="#111"/><path d="M106.6,123 Q104.1,131 106.6,140" fill="none" stroke="#999" stroke-width="1.3"/><path d="M125.6,121.7 H141.2 Q139.2,131 141.2,141 H125.6 Q123.1,131 125.6,121.7 Z" fill="#111"/><path d="M126.1,123 Q123.6,131 126.1,140" fill="none" stroke="#999" stroke-width="1.3"/><path d="M144.5,121.7 H159.5 Q157.5,131 159.5,141 H144.5 Q142.0,131 144.5,121.7 Z" fill="#111"/><path d="M145.0,123 Q142.5,131 145.0,140" fill="none" stroke="#999" stroke-width="1.3"/><path d="M162.8,121.7 H177.3 Q175.3,131 177.3,141 H162.8 Q160.3,131 162.8,121.7 Z" fill="#111"/><path d="M163.3,123 Q160.8,131 163.3,140" fill="none" stroke="#999" stroke-width="1.3"/><path d="M180.6,121.7 H194.6 Q192.6,131 194.6,141 H180.6 Q178.1,131 180.6,121.7 Z" fill="#111"/><path d="M181.1,123 Q178.6,131 181.1,140" fill="none" stroke="#999" stroke-width="1.3"/><path d="M197.9,121.7 H211.2 Q209.2,131 211.2,141 H197.9 Q195.4,131 197.9,121.7 Z" fill="#111"/><path d="M198.4,123 Q195.9,131 198.4,140" fill="none" stroke="#999" stroke-width="1.3"/><path d="M214.5,121.7 H227.3 Q225.3,131 227.3,141 H214.5 Q212.0,131 214.5,121.7 Z" fill="#111"/><path d="M215.0,123 Q212.5,131 215.0,140" fill="none" stroke="#999" stroke-width="1.3"/><path d="M230.6,121.7 H242.9 Q240.9,131 242.9,141 H230.6 Q228.1,131 230.6,121.7 Z" fill="#111"/><path d="M231.1,123 Q228.6,131 231.1,140" fill="none" stroke="#999" stroke-width="1.3"/><path d="M78.6,159.1 H234 V180 L78.6,182.8 Z" fill="#fff" stroke="#444" stroke-width="1.3"/><line x1="98.4" y1="159.1" x2="98.4" y2="182.4" stroke="#555" stroke-width="1.1"/><line x1="117.5" y1="159.1" x2="117.5" y2="182.1" stroke="#555" stroke-width="1.1"/><line x1="135.9" y1="159.1" x2="135.9" y2="181.8" stroke="#555" stroke-width="1.1"/><line x1="153.7" y1="159.1" x2="153.7" y2="181.4" stroke="#555" stroke-width="1.1"/><line x1="170.8" y1="159.1" x2="170.8" y2="181.1" stroke="#555" stroke-width="1.1"/><line x1="187.3" y1="159.1" x2="187.3" y2="180.8" stroke="#555" stroke-width="1.1"/><line x1="203.1" y1="159.1" x2="203.1" y2="180.6" stroke="#555" stroke-width="1.1"/><line x1="218.3" y1="159.1" x2="218.3" y2="180.3" stroke="#555" stroke-width="1.1"/><path d="M84.2,182.6 V172.7 M92.8,182.6 V172.7" stroke="#555" stroke-width="1"/><circle cx="88.5" cy="172.7" r="4.3" fill="#3a3a3a" stroke="#111" stroke-width="1"/><path d="M87.0,171.2 l3,2.5" stroke="#ddd" stroke-width="0.9"/><path d="M103.6,182.3 V172.5 M112.2,182.3 V172.5" stroke="#555" stroke-width="1"/><circle cx="107.9" cy="172.5" r="4.3" fill="#3a3a3a" stroke="#111" stroke-width="1"/><path d="M106.4,171.0 l3,2.5" stroke="#ddd" stroke-width="0.9"/><path d="M122.4,181.9 V172.2 M131.0,181.9 V172.2" stroke="#555" stroke-width="1"/><circle cx="126.7" cy="172.2" r="4.3" fill="#3a3a3a" stroke="#111" stroke-width="1"/><path d="M125.2,170.7 l3,2.5" stroke="#ddd" stroke-width="0.9"/><path d="M140.5,181.6 V172.0 M149.1,181.6 V172.0" stroke="#555" stroke-width="1"/><circle cx="144.8" cy="172.0" r="4.3" fill="#3a3a3a" stroke="#111" stroke-width="1"/><path d="M143.3,170.5 l3,2.5" stroke="#ddd" stroke-width="0.9"/><path d="M158.0,181.3 V171.8 M166.6,181.3 V171.8" stroke="#555" stroke-width="1"/><circle cx="162.3" cy="171.8" r="4.3" fill="#3a3a3a" stroke="#111" stroke-width="1"/><path d="M160.8,170.3 l3,2.5" stroke="#ddd" stroke-width="0.9"/><path d="M174.8,181.0 V171.6 M183.4,181.0 V171.6" stroke="#555" stroke-width="1"/><circle cx="179.1" cy="171.6" r="4.3" fill="#3a3a3a" stroke="#111" stroke-width="1"/><path d="M177.6,170.1 l3,2.5" stroke="#ddd" stroke-width="0.9"/><path d="M190.9,180.7 V171.4 M199.5,180.7 V171.4" stroke="#555" stroke-width="1"/><circle cx="195.2" cy="171.4" r="4.3" fill="#3a3a3a" stroke="#111" stroke-width="1"/><path d="M193.7,169.9 l3,2.5" stroke="#ddd" stroke-width="0.9"/><path d="M206.4,180.4 V171.3 M215.0,180.4 V171.3" stroke="#555" stroke-width="1"/><circle cx="210.7" cy="171.3" r="4.3" fill="#3a3a3a" stroke="#111" stroke-width="1"/><path d="M209.2,169.8 l3,2.5" stroke="#ddd" stroke-width="0.9"/><path d="M221.2,180.2 V171.1 M229.8,180.2 V171.1" stroke="#555" stroke-width="1"/><circle cx="225.5" cy="171.1" r="4.3" fill="#3a3a3a" stroke="#111" stroke-width="1"/><path d="M224.0,169.6 l3,2.5" stroke="#ddd" stroke-width="0.9"/><path d="M160,140 H172 V144 Q166,147.5 160,146 Z" fill="#111"/></g>
<g transform="translate(768.3,1298.7)"><path d="M33.7,118.4 H59.3" fill="none" stroke="#666" stroke-width="1.3"/><line x1="33.7" y1="156.8" x2="59.3" y2="156.8" stroke="#444" stroke-width="2.2"/><path d="M241,120 H261.5" fill="none" stroke="#666" stroke-width="1.3"/><line x1="241" y1="153.5" x2="261.5" y2="153.5" stroke="#444" stroke-width="2.2"/><path d="M77.3,90.6 L59.3,96.8 V172.2 L63.6,177.2 V182.8 L236,180 L235.5,160 L243,158 V111 L234,108.8 L233.5,94.7 Z" fill="#fff" stroke="#444" stroke-width="1.4" stroke-linejoin="round"/><path d="M59.3,118.4 H63.4 V156.6 H59.3" fill="none" stroke="#666" stroke-width="1.3"/><path d="M77.4,90.6 L233.5,94.2 V109.5 L77.4,109.3 Z" fill="#fff" stroke="#444" stroke-width="1.3"/><line x1="97.4" y1="91.3" x2="97.4" y2="109.4" stroke="#555" stroke-width="1.1"/><line x1="116.7" y1="91.7" x2="116.7" y2="109.4" stroke="#555" stroke-width="1.1"/><line x1="135.4" y1="92.1" x2="135.4" y2="109.4" stroke="#555" stroke-width="1.1"/><line x1="153.4" y1="92.5" x2="153.4" y2="109.4" stroke="#555" stroke-width="1.1"/><line x1="170.7" y1="92.9" x2="170.7" y2="109.4" stroke="#555" stroke-width="1.1"/><line x1="187.4" y1="93.3" x2="187.4" y2="109.4" stroke="#555" stroke-width="1.1"/><line x1="203.4" y1="93.7" x2="203.4" y2="109.4" stroke="#555" stroke-width="1.1"/><line x1="218.8" y1="94.1" x2="218.8" y2="109.4" stroke="#555" stroke-width="1.1"/><circle cx="87.4" cy="98.2" r="4" fill="#3a3a3a" stroke="#111" stroke-width="1"/><path d="M85.9,96.7 l3,2.5" stroke="#ddd" stroke-width="0.9"/><circle cx="107.1" cy="98.6" r="4" fill="#3a3a3a" stroke="#111" stroke-width="1"/><path d="M105.6,97.1 l3,2.5" stroke="#ddd" stroke-width="0.9"/><circle cx="126.0" cy="99.0" r="4" fill="#3a3a3a" stroke="#111" stroke-width="1"/><path d="M124.5,97.5 l3,2.5" stroke="#ddd" stroke-width="0.9"/><circle cx="144.4" cy="99.3" r="4" fill="#3a3a3a" stroke="#111" stroke-width="1"/><path d="M142.9,97.8 l3,2.5" stroke="#ddd" stroke-width="0.9"/><circle cx="162.1" cy="99.7" r="4" fill="#3a3a3a" stroke="#111" stroke-width="1"/><path d="M160.6,98.2 l3,2.5" stroke="#ddd" stroke-width="0.9"/><circle cx="179.1" cy="100.0" r="4" fill="#3a3a3a" stroke="#111" stroke-width="1"/><path d="M177.6,98.5 l3,2.5" stroke="#ddd" stroke-width="0.9"/><circle cx="195.4" cy="100.4" r="4" fill="#3a3a3a" stroke="#111" stroke-width="1"/><path d="M193.9,98.9 l3,2.5" stroke="#ddd" stroke-width="0.9"/><circle cx="211.1" cy="100.7" r="4" fill="#3a3a3a" stroke="#111" stroke-width="1"/><path d="M209.6,99.2 l3,2.5" stroke="#ddd" stroke-width="0.9"/><circle cx="226.1" cy="101.0" r="4" fill="#3a3a3a" stroke="#111" stroke-width="1"/><path d="M224.6,99.5 l3,2.5" stroke="#ddd" stroke-width="0.9"/><path d="M82.9,109.4 H241.5 V158.5 H82.9 Z" fill="#fff" stroke="#555" stroke-width="1.2"/><line x1="102.9" y1="109.4" x2="102.9" y2="158.5" stroke="#555" stroke-width="1.1"/><line x1="122.4" y1="109.4" x2="122.4" y2="158.5" stroke="#555" stroke-width="1.1"/><line x1="141.3" y1="109.4" x2="141.3" y2="158.5" stroke="#555" stroke-width="1.1"/><line x1="159.6" y1="109.4" x2="159.6" y2="158.5" stroke="#555" stroke-width="1.1"/><line x1="177.4" y1="109.4" x2="177.4" y2="158.5" stroke="#555" stroke-width="1.1"/><line x1="194.7" y1="109.4" x2="194.7" y2="158.5" stroke="#555" stroke-width="1.1"/><line x1="211.3" y1="109.4" x2="211.3" y2="158.5" stroke="#555" stroke-width="1.1"/><line x1="227.4" y1="109.4" x2="227.4" y2="158.5" stroke="#555" stroke-width="1.1"/><rect x="84" y="122.5" width="157" height="18" fill="#8a8a8a"/><path d="M86.1,121.7 H102.8 Q100.8,131 102.8,141 H86.1 Q83.6,131 86.1,121.7 Z" fill="#111"/><path d="M86.6,123 Q84.1,131 86.6,140" fill="none" stroke="#999" stroke-width="1.3"/><path d="M106.1,121.7 H122.3 Q120.3,131 122.3,141 H106.1 Q103.6,131 106.1,121.7 Z" fill="#111"/><path d="M106.6,123 Q104.1,131 106.6,140" fill="none" stroke="#999" stroke-width="1.3"/><path d="M125.6,121.7 H141.2 Q139.2,131 141.2,141 H125.6 Q123.1,131 125.6,121.7 Z" fill="#111"/><path d="M126.1,123 Q123.6,131 126.1,140" fill="none" stroke="#999" stroke-width="1.3"/><path d="M144.5,121.7 H159.5 Q157.5,131 159.5,141 H144.5 Q142.0,131 144.5,121.7 Z" fill="#111"/><path d="M145.0,123 Q142.5,131 145.0,140" fill="none" stroke="#999" stroke-width="1.3"/><path d="M162.8,121.7 H177.3 Q175.3,131 177.3,141 H162.8 Q160.3,131 162.8,121.7 Z" fill="#111"/><path d="M163.3,123 Q160.8,131 163.3,140" fill="none" stroke="#999" stroke-width="1.3"/><path d="M180.6,121.7 H194.6 Q192.6,131 194.6,141 H180.6 Q178.1,131 180.6,121.7 Z" fill="#111"/><path d="M181.1,123 Q178.6,131 181.1,140" fill="none" stroke="#999" stroke-width="1.3"/><path d="M197.9,121.7 H211.2 Q209.2,131 211.2,141 H197.9 Q195.4,131 197.9,121.7 Z" fill="#111"/><path d="M198.4,123 Q195.9,131 198.4,140" fill="none" stroke="#999" stroke-width="1.3"/><path d="M214.5,121.7 H227.3 Q225.3,131 227.3,141 H214.5 Q212.0,131 214.5,121.7 Z" fill="#111"/><path d="M215.0,123 Q212.5,131 215.0,140" fill="none" stroke="#999" stroke-width="1.3"/><path d="M230.6,121.7 H242.9 Q240.9,131 242.9,141 H230.6 Q228.1,131 230.6,121.7 Z" fill="#111"/><path d="M231.1,123 Q228.6,131 231.1,140" fill="none" stroke="#999" stroke-width="1.3"/><path d="M78.6,159.1 H234 V180 L78.6,182.8 Z" fill="#fff" stroke="#444" stroke-width="1.3"/><line x1="98.4" y1="159.1" x2="98.4" y2="182.4" stroke="#555" stroke-width="1.1"/><line x1="117.5" y1="159.1" x2="117.5" y2="182.1" stroke="#555" stroke-width="1.1"/><line x1="135.9" y1="159.1" x2="135.9" y2="181.8" stroke="#555" stroke-width="1.1"/><line x1="153.7" y1="159.1" x2="153.7" y2="181.4" stroke="#555" stroke-width="1.1"/><line x1="170.8" y1="159.1" x2="170.8" y2="181.1" stroke="#555" stroke-width="1.1"/><line x1="187.3" y1="159.1" x2="187.3" y2="180.8" stroke="#555" stroke-width="1.1"/><line x1="203.1" y1="159.1" x2="203.1" y2="180.6" stroke="#555" stroke-width="1.1"/><line x1="218.3" y1="159.1" x2="218.3" y2="180.3" stroke="#555" stroke-width="1.1"/><path d="M84.2,182.6 V172.7 M92.8,182.6 V172.7" stroke="#555" stroke-width="1"/><circle cx="88.5" cy="172.7" r="4.3" fill="#3a3a3a" stroke="#111" stroke-width="1"/><path d="M87.0,171.2 l3,2.5" stroke="#ddd" stroke-width="0.9"/><path d="M103.6,182.3 V172.5 M112.2,182.3 V172.5" stroke="#555" stroke-width="1"/><circle cx="107.9" cy="172.5" r="4.3" fill="#3a3a3a" stroke="#111" stroke-width="1"/><path d="M106.4,171.0 l3,2.5" stroke="#ddd" stroke-width="0.9"/><path d="M122.4,181.9 V172.2 M131.0,181.9 V172.2" stroke="#555" stroke-width="1"/><circle cx="126.7" cy="172.2" r="4.3" fill="#3a3a3a" stroke="#111" stroke-width="1"/><path d="M125.2,170.7 l3,2.5" stroke="#ddd" stroke-width="0.9"/><path d="M140.5,181.6 V172.0 M149.1,181.6 V172.0" stroke="#555" stroke-width="1"/><circle cx="144.8" cy="172.0" r="4.3" fill="#3a3a3a" stroke="#111" stroke-width="1"/><path d="M143.3,170.5 l3,2.5" stroke="#ddd" stroke-width="0.9"/><path d="M158.0,181.3 V171.8 M166.6,181.3 V171.8" stroke="#555" stroke-width="1"/><circle cx="162.3" cy="171.8" r="4.3" fill="#3a3a3a" stroke="#111" stroke-width="1"/><path d="M160.8,170.3 l3,2.5" stroke="#ddd" stroke-width="0.9"/><path d="M174.8,181.0 V171.6 M183.4,181.0 V171.6" stroke="#555" stroke-width="1"/><circle cx="179.1" cy="171.6" r="4.3" fill="#3a3a3a" stroke="#111" stroke-width="1"/><path d="M177.6,170.1 l3,2.5" stroke="#ddd" stroke-width="0.9"/><path d="M190.9,180.7 V171.4 M199.5,180.7 V171.4" stroke="#555" stroke-width="1"/><circle cx="195.2" cy="171.4" r="4.3" fill="#3a3a3a" stroke="#111" stroke-width="1"/><path d="M193.7,169.9 l3,2.5" stroke="#ddd" stroke-width="0.9"/><path d="M206.4,180.4 V171.3 M215.0,180.4 V171.3" stroke="#555" stroke-width="1"/><circle cx="210.7" cy="171.3" r="4.3" fill="#3a3a3a" stroke="#111" stroke-width="1"/><path d="M209.2,169.8 l3,2.5" stroke="#ddd" stroke-width="0.9"/><path d="M221.2,180.2 V171.1 M229.8,180.2 V171.1" stroke="#555" stroke-width="1"/><circle cx="225.5" cy="171.1" r="4.3" fill="#3a3a3a" stroke="#111" stroke-width="1"/><path d="M224.0,169.6 l3,2.5" stroke="#ddd" stroke-width="0.9"/></g>
<path d="M170.5,138.5 C170,134 176,131.5 180,134 C182,136 183,139 183.8,142.1 C187,147 190,151 192,154.4 C196,162 199,170 202.8,177.8 C206,186 208,194 210.7,201.3 L203,209 L187.2,211.1 C184,200 182,190 179.4,179.8 C177,170 175,162 173.5,154.4 C172,148 171,143 170.5,138.5 Z" fill="#fff"/>
<g fill="none" stroke="#333" stroke-width="1.3" stroke-linecap="round">
<path d="M170.5,138.5 C171,143 172,148 173.5,154.4 C175,162 177,170 179.4,179.8 C182,190 184,200 187.2,211.1"/>
<path d="M170.5,138.5 C170,134 176,131.5 180,134 C182,136 183,139 183.8,142.1"/><path d="M172.5,137 C175,141 179,142.5 183.5,141"/>
<path d="M183.8,142.1 C187,147 190,151 192,154.4 C196,162 199,170 202.8,177.8 C206,186 208,194 210.7,201.3 C213,205 216,208 220.4,209.1 C225,210 229,209.5 233.2,210.1 C237,211 240,213 242,216"/>
<path d="M182.3,205.2 C172,210 166,214 165.7,220 C165,226 168,232 171,236.5"/>
<path d="M169.6,251.2 C174,244 178,237 182.3,235.6 C186,235 188,237 190,240 C193,245 196,249 199,252.2"/>
<path d="M171,222.4 C175,224 179,224.8 183.8,224.8"/><path d="M203.3,209.1 C203,225 202,240 200.9,255.1"/>
</g>
<path d="M290.9,106.7 C302,118 306,135 303,150 C302,156 300,160 297.6,165" fill="none" stroke="#222" stroke-width="1.6"/>
<path d="M288.2,181.4 L291.8,161.4 L302.9,165 Z" fill="#111"/>
<path d="M938,1439.6 C936.5,1432 941,1427.5 945,1428.5 C948.5,1429.5 950.5,1433 951.2,1436.6 C954,1441 957,1445 960,1449.4 C963.5,1456 966.5,1462 969.8,1468.9 C972.5,1475.5 975,1482 977.6,1488.5 L985.4,1501.2 L954.1,1501.2 C951.5,1493 949.5,1485 947.3,1476.8 C945.5,1471 944,1465 942.4,1459.1 C940.5,1452 939,1446 938,1439.6 Z" fill="#fff"/>
<g fill="none" stroke="#333" stroke-width="1.3" stroke-linecap="round">
<path d="M938,1439.6 C939,1446 940.5,1452 942.4,1459.1 C944,1465 945.5,1471 947.3,1476.8 C949.5,1485 951.5,1493 954.1,1501.2"/>
<path d="M938,1439.6 C936.5,1432 941,1427.5 945,1428.5 C948.5,1429.5 950.5,1433 951.2,1436.6"/><path d="M941,1430.5 C942,1434.5 945.5,1436.8 950.8,1436"/>
<path d="M951.2,1436.6 C954,1441 957,1445 960,1449.4 C963.5,1456 966.5,1462 969.8,1468.9 C972.5,1475.5 975,1482 977.6,1488.5 C980,1494 982.5,1498.5 985.4,1501.2 C988,1503.5 990,1505.5 992.3,1506.1 C995,1506 997.5,1505 1000.1,1505.1 C1004,1505.5 1006,1506.5 1008,1508 C1010,1509.5 1011.5,1511 1012.8,1513"/>
<path d="M954.1,1501.2 C946,1505 938,1510 936,1514 C933,1520 936,1526 939.5,1530.6 C944,1537 949,1543 952.2,1547.2"/>
<path d="M954.6,1501.2 C955,1516 954,1532 952.2,1547.2"/><path d="M941.4,1518.8 C945,1520 949,1520.8 954.1,1520.8"/>
<path d="M922.8,1547.2 C926,1540 930,1535 934.6,1532 C936.5,1531 938,1531 940,1531.5"/>
</g>
<path d="M1066,1484.6 C1072,1470 1074,1455 1071,1442 C1069,1435 1066,1430 1063,1428" fill="none" stroke="#222" stroke-width="1.6"/>
<path d="M1051.5,1406.9 L1056.3,1432.8 L1069.3,1429.5 Z" fill="#111"/>
<circle cx="983.9" cy="771.7" r="28.6" fill="none" stroke="#a68a8a" stroke-width="1.4"/>
<path d="M977.4,776.6 C976,770 971.8,767 971.8,762 C971.8,756.5 977,753 983.3,753 C989.6,753 994.8,756.5 994.8,762 C994.8,767 990.6,770 989.9,776.6" fill="none" stroke="#7a7a7a" stroke-width="1.3"/>
<path d="M977.4,776.6 H989.9 L989,787 Q986,791.5 983.6,791.5 Q981,791.5 978.2,787 Z" fill="#3a3a3a"/>
<g stroke="#9a8484" stroke-width="1.3"><line x1="969.9" y1="747.3" x2="998.6" y2="795.6"/><line x1="994.8" y1="746.1" x2="970.5" y2="796.2"/></g>
</svg>
</body></html>
